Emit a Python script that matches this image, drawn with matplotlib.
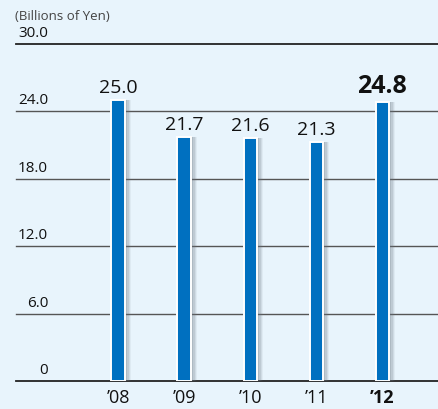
import matplotlib
matplotlib.use("Agg")
import matplotlib.pyplot as plt

years = ["\u201908", "\u201909", "\u201910", "\u201911", "\u201912"]
values = [25.0, 21.7, 21.6, 21.3, 24.8]
yticks = [0, 6, 12, 18, 24, 30]
ytick_labels = ["0", "6.0", "12.0", "18.0", "24.0", "30.0"]

plt.rcParams['font.family'] = ['Open Sans', 'DejaVu Sans']
bg = '#e8f4fc'
blue = '#0070c0'

fig = plt.figure(figsize=(4.39, 4.09), dpi=100, facecolor=bg)
W, H = 439, 409
ax = fig.add_axes([16 / W, (H - 381) / H, (W - 16) / W, (381 - 44) / H])
ax.set_facecolor(bg)
x = list(range(len(values)))
ax.set_xlim(-1.545, 4.86)
ax.set_ylim(0, 30)
for s in ax.spines.values():
    s.set_visible(False)
ax.set_xticks([])
ax.set_yticks([])

# gridlines + labels sitting on them
for t, lab in zip(yticks, ytick_labels):
    col = '#222222' if t in (0, 30) else '#555555'
    lw = 1.3 if t in (0, 30) else 1.0
    ax.axhline(t, color=col, lw=lw, zorder=1, clip_on=False)
    ax.annotate(lab, xy=(0, t), xycoords=('axes fraction', 'data'),
                xytext=(32, 3), textcoords='offset pixels',
                ha='right', va='bottom', fontsize=11, color='#111111')

# soft shadow on the right of each bar
for off, a in [(0.10, 0.08), (0.08, 0.12), (0.06, 0.16), (0.04, 0.2)]:
    ax.bar([i + off for i in x], values, width=0.2, color='#6a7580', alpha=a,
           linewidth=0, zorder=2)
ax.bar(x, values, width=0.2, color=blue, edgecolor='white', linewidth=1.4, zorder=3)

for i, v in enumerate(values):
    bold = i == len(values) - 1
    ax.annotate(f"{v:.1f}", xy=(i, v), xytext=(0, 3), textcoords='offset pixels',
                ha='center', va='bottom', fontsize=18 if bold else 14,
                fontweight='bold' if bold else 'normal', color='#111111')
    ax.annotate(years[i], xy=(i, 0), xytext=(0, -8),
                textcoords='offset pixels', ha='center', va='top',
                fontsize=13, fontweight='bold' if bold else 'normal', color='#111111')

fig.text(15 / W, 1 - 20 / H, "(Billions of Yen)", fontsize=9.5, color='#444444',
         ha='left', va='baseline')

fig.savefig("out.png", dpi=100, facecolor=bg)
